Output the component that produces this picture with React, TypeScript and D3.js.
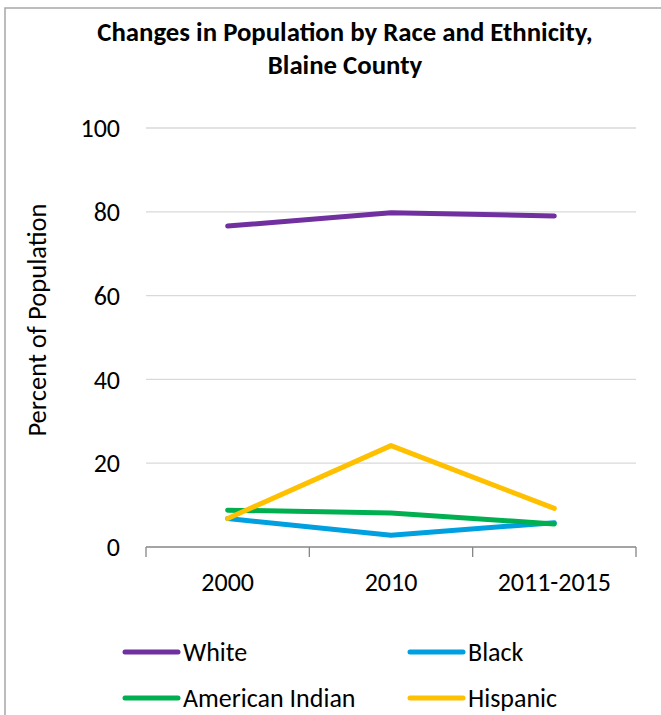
import React from "react";
import * as d3 from "d3";

const categories = ["2000", "2010", "2011-2015"];
const yTicks = [0, 20, 40, 60, 80, 100];
const seriesNames = ["White", "Black", "American Indian", "Hispanic"];
const whiteValues = [76.6, 79.8, 79.0];
const blackValues = [6.8, 2.8, 5.8];
const americanIndianValues = [8.8, 8.1, 5.5];
const hispanicValues = [6.8, 24.2, 9.2];
const seriesColors = ["#7030A0", "#009FDF", "#00B050", "#FFC000"];

const W = 661;
const H = 715;
const FONT = "Carlito, Calibri, Lato, sans-serif";
const FS = 26;

export default function App() {
  const x = d3.scaleBand<string>().domain(categories).range([146, 636]);
  const y = d3.scaleLinear().domain([0, 100]).range([547, 128]);
  const data = [whiteValues, blackValues, americanIndianValues, hispanicValues];
  const line = d3
    .line<number>()
    .x((_, i) => (x(categories[i]) as number) + x.bandwidth() / 2)
    .y((v) => y(v));
  const tickXs = [...categories.map((c) => x(c) as number), 636];
  const legendPos = [
    { x: 125, y: 652 },
    { x: 410, y: 652 },
    { x: 125, y: 698 },
    { x: 410, y: 698 },
  ];
  return (
    <div style={{ position: "fixed", left: 0, top: 0 }}>
      <svg width={W} height={H} style={{ display: "block", fontFamily: FONT }}>
        <rect x={0} y={0} width={W} height={H} fill="#fff" />
        <rect x={5} y={8} width={W + 10} height={H + 10} fill="none" stroke="#a6a6a6" strokeWidth={1.5} />
        <text x={345} y={32} dy="0.35em" textAnchor="middle" fontSize={26.8} fontWeight="bold" fill="#000">
          Changes in Population by Race and Ethnicity,
        </text>
        <text x={345} y={65} dy="0.35em" textAnchor="middle" fontSize={26.8} fontWeight="bold" fill="#000">
          Blaine County
        </text>
        {yTicks.map((t) =>
          t > 0 ? (
            <line key={"g" + t} x1={146} x2={636} y1={y(t)} y2={y(t)} stroke="#d9d9d9" strokeWidth={1.3} />
          ) : null
        )}
        {yTicks.map((t) => (
          <text key={"t" + t} x={120} y={y(t)} dy="0.35em" textAnchor="end" fontSize={FS} fill="#000">
            {t}
          </text>
        ))}
        <line x1={146} x2={636} y1={y(0)} y2={y(0)} stroke="#868686" strokeWidth={1.3} />
        {tickXs.map((tx, i) => (
          <line key={"k" + i} x1={tx} x2={tx} y1={y(0)} y2={y(0) + 10} stroke="#868686" strokeWidth={1.3} />
        ))}
        {categories.map((c) => (
          <text key={c} x={(x(c) as number) + x.bandwidth() / 2} y={582} dy="0.35em" textAnchor="middle" fontSize={FS} fill="#000">
            {c}
          </text>
        ))}
        <text transform={`translate(37,320) rotate(-90)`} textAnchor="middle" dy="0.35em" fontSize={26.6} fill="#000">
          Percent of Population
        </text>
        {data.map((vals, i) => (
          <path key={"s" + i} d={line(vals) as string} fill="none" stroke={seriesColors[i]} strokeWidth={5} strokeLinecap="round" strokeLinejoin="round" />
        ))}
        {seriesNames.map((n, i) => (
          <g key={n}>
            <line x1={legendPos[i].x} x2={legendPos[i].x + 53} y1={legendPos[i].y} y2={legendPos[i].y} stroke={seriesColors[i]} strokeWidth={5} strokeLinecap="round" />
            <text x={legendPos[i].x + 58} y={legendPos[i].y} dy="0.35em" fontSize={FS} fill="#000">
              {n}
            </text>
          </g>
        ))}
      </svg>
    </div>
  );
}
